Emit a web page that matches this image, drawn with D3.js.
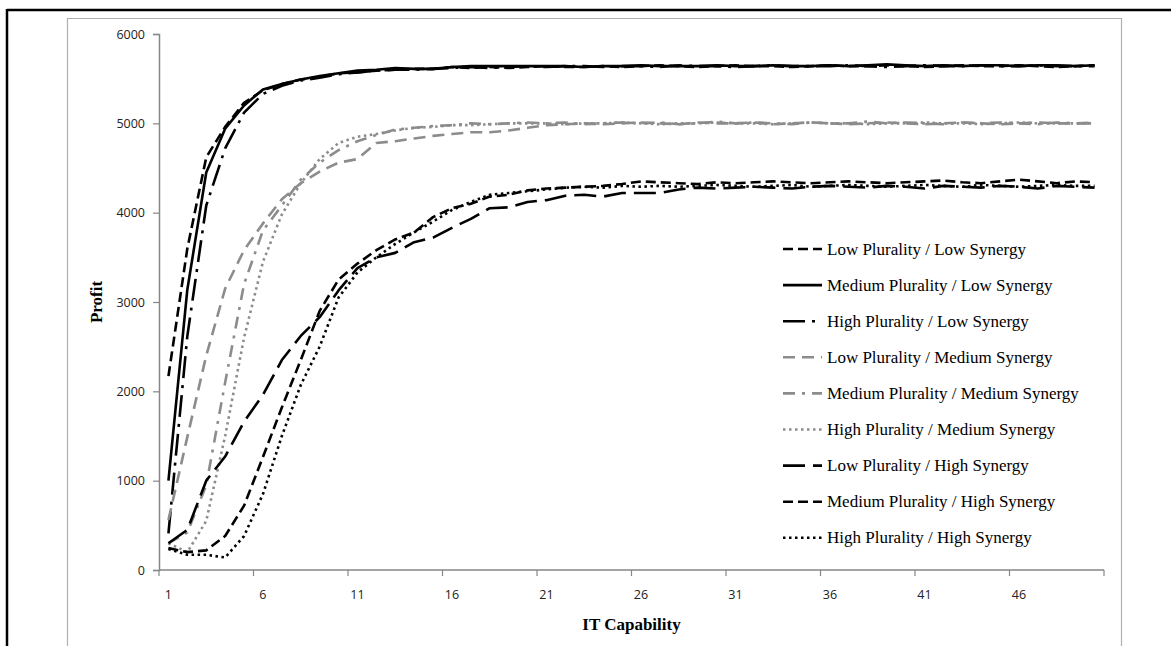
<!DOCTYPE html>
<html>
<head>
<meta charset="utf-8">
<script src="https://cdn.jsdelivr.net/npm/d3@7"></script>
<style>
  body { margin: 0; background: #fff; }
  svg { display: block; }
  .tick text { font-family: "Open Sans", sans-serif; font-size: 12.5px; fill: #222; }
  .legend text { font-family: "Liberation Serif", serif; font-size: 17px; fill: #000; }
  .title { font-family: "Liberation Serif", serif; font-size: 17px; font-weight: bold; fill: #000; }
</style>
</head>
<body>
<svg width="1171" height="646"></svg>
<script>
const categories = d3.range(1, 51);
const xTickLabels = [1, 6, 11, 16, 21, 26, 31, 36, 41, 46];
const yTicks = [0, 1000, 2000, 3000, 4000, 5000, 6000];

const seriesNames = [
  "Low Plurality / Low Synergy",
  "Medium Plurality / Low Synergy",
  "High Plurality / Low Synergy",
  "Low Plurality / Medium Synergy",
  "Medium Plurality / Medium Synergy",
  "High Plurality / Medium Synergy",
  "Low Plurality / High Synergy",
  "Medium Plurality / High Synergy",
  "High Plurality / High Synergy"
];

const lowLow = [2170, 3600, 4620, 4960, 5230, 5370, 5440, 5490, 5520, 5560, 5570, 5590, 5600, 5610, 5610, 5630, 5620, 5630, 5620, 5630,
  5640, 5630, 5630, 5640, 5630, 5640, 5650, 5640, 5630, 5640, 5650, 5640, 5640, 5630, 5640, 5650, 5640, 5640, 5650, 5640,
  5630, 5640, 5650, 5640, 5640, 5650, 5640, 5630, 5640, 5650];
const mediumLow = [1000, 3140, 4450, 4940, 5200, 5380, 5440, 5490, 5530, 5560, 5590, 5600, 5620, 5610, 5610, 5630, 5640, 5640, 5640, 5640,
  5640, 5640, 5630, 5640, 5640, 5650, 5640, 5640, 5640, 5650, 5640, 5640, 5650, 5640, 5640, 5650, 5640, 5650, 5660, 5650,
  5640, 5650, 5640, 5650, 5650, 5640, 5650, 5650, 5640, 5650];
const highLow = [410, 2620, 4080, 4720, 5120, 5330, 5420, 5480, 5510, 5550, 5570, 5590, 5600, 5600, 5610, 5620, 5630, 5620, 5630, 5640,
  5630, 5640, 5640, 5630, 5640, 5640, 5630, 5650, 5640, 5640, 5630, 5640, 5650, 5640, 5640, 5640, 5650, 5640, 5630, 5640,
  5650, 5640, 5640, 5650, 5640, 5640, 5650, 5640, 5640, 5640];
const lowMedium = [560, 1490, 2400, 3150, 3580, 3880, 4150, 4330, 4460, 4560, 4600, 4780, 4800, 4830, 4860, 4880, 4900, 4900, 4920, 4950,
  4980, 4990, 5000, 4990, 5000, 5010, 5000, 4990, 5010, 5000, 5000, 5010, 4990, 5000, 5010, 5000, 4990, 5000, 5010, 5000,
  4990, 5000, 5010, 5000, 4990, 5000, 5010, 5000, 5000, 5000];
const mediumMedium = [300, 420, 950, 2100, 3200, 3800, 4080, 4370, 4560, 4700, 4800, 4870, 4930, 4950, 4970, 4980, 5000, 4990, 5000, 5010,
  5000, 5010, 4990, 5000, 5010, 5000, 5010, 4990, 5000, 5020, 5000, 5010, 5000, 4990, 5010, 5000, 5000, 5020, 5000, 5010,
  5000, 4990, 5010, 5000, 5010, 5000, 4990, 5010, 5000, 5010];
const highMedium = [300, 200, 550, 1500, 2600, 3450, 3980, 4330, 4600, 4780, 4850, 4880, 4920, 4950, 4960, 4980, 4980, 4990, 5000, 5000,
  5000, 4990, 5000, 5000, 5010, 5000, 4990, 5000, 5000, 5010, 5000, 5000, 4990, 5000, 5010, 5000, 5000, 4990, 5000, 5000,
  5010, 5000, 5000, 4990, 5000, 5010, 5000, 5000, 5000, 5000];
const lowHigh = [300, 450, 1000, 1270, 1660, 1960, 2350, 2620, 2830, 3130, 3380, 3500, 3550, 3670, 3720, 3830, 3930, 4050, 4060, 4120,
  4140, 4190, 4200, 4180, 4220, 4220, 4220, 4260, 4280, 4270, 4280, 4290, 4280, 4270, 4290, 4300, 4290, 4280, 4300, 4290,
  4270, 4300, 4290, 4280, 4300, 4290, 4270, 4300, 4290, 4280];
const mediumHigh = [246, 200, 220, 380, 720, 1265, 1820, 2350, 2900, 3250, 3430, 3580, 3700, 3780, 3950, 4050, 4100, 4180, 4200, 4250,
  4270, 4280, 4290, 4300, 4320, 4350, 4340, 4330, 4320, 4340, 4330, 4340, 4350, 4340, 4330, 4340, 4350, 4340, 4330, 4340,
  4350, 4360, 4340, 4330, 4350, 4370, 4350, 4330, 4350, 4340];
const highHigh = [235, 170, 170, 140, 380, 850, 1500, 2070, 2500, 3050, 3330, 3500, 3650, 3780, 3900, 4030, 4120, 4200, 4220, 4240,
  4260, 4280, 4290, 4280, 4300, 4290, 4300, 4290, 4300, 4310, 4300, 4290, 4300, 4310, 4290, 4300, 4310, 4300, 4290, 4300,
  4310, 4300, 4290, 4310, 4300, 4290, 4300, 4310, 4300, 4300];

const seriesValues = [lowLow, mediumLow, highLow, lowMedium, mediumMedium, highMedium, lowHigh, mediumHigh, highHigh];
const seriesColors = ["#000", "#000", "#000", "#8c8c8c", "#8c8c8c", "#8c8c8c", "#000", "#000", "#000"];
const seriesDash = ["10,5", null, "22,7,3,7", "12,7", "12,7,3,7", "2.5,3.5", "22,8", "10,5", "2.5,3.5"];

const svg = d3.select("svg");

// frames
svg.append("line").attr("x1", 7).attr("y1", 10).attr("x2", 1171).attr("y2", 10)
  .attr("stroke", "#000").attr("stroke-width", 2.5);
svg.append("line").attr("x1", 7).attr("y1", 9).attr("x2", 7).attr("y2", 646)
  .attr("stroke", "#000").attr("stroke-width", 2.5);
svg.append("path").attr("d", "M67.5,650 V18.5 H1121.5 V650")
  .attr("fill", "none").attr("stroke", "#b0b0b0").attr("stroke-width", 1.2);

const x = d3.scaleBand().domain(categories).range([159, 1104]).paddingInner(0).paddingOuter(0);
const y = d3.scaleLinear().domain([0, 6000]).range([570, 34]);
const cx = c => x(c) + x.bandwidth() / 2;

// y axis
const yAxis = svg.append("g").attr("transform", "translate(159,0)")
  .call(d3.axisLeft(y).tickValues(yTicks).tickSize(6).tickPadding(8).tickFormat(d3.format("d")));
yAxis.select(".domain").attr("stroke", "#868686").attr("stroke-width", 1.5);
yAxis.selectAll(".tick line").attr("stroke", "#868686").attr("stroke-width", 1.2);

// x axis (ticks between categories, every 5)
const xAxis = svg.append("g");
xAxis.append("line").attr("x1", x.range()[0]).attr("x2", x.range()[1]).attr("y1", y(0)).attr("y2", y(0))
  .attr("stroke", "#868686").attr("stroke-width", 1.5);
const tickEdges = xTickLabels.map(c => x(c)).concat([x.range()[1]]);
xAxis.selectAll(".xt").data(tickEdges).enter().append("line")
  .attr("x1", d => d).attr("x2", d => d).attr("y1", y(0)).attr("y2", y(0) + 6)
  .attr("stroke", "#868686").attr("stroke-width", 1.2);
xAxis.selectAll(".xl").data(xTickLabels).enter().append("g").attr("class", "tick")
  .append("text").attr("x", d => cx(d)).attr("y", 599).attr("text-anchor", "middle").text(d => d);

// titles
svg.append("text").attr("class", "title").attr("x", (x.range()[0] + x.range()[1]) / 2).attr("y", 630)
  .attr("text-anchor", "middle").text("IT Capability");
svg.append("text").attr("class", "title").attr("transform", `translate(102,${(y(0) + y(6000)) / 2}) rotate(-90)`)
  .attr("text-anchor", "middle").text("Profit");

// lines
const line = d3.line().x((d, i) => cx(categories[i])).y(d => y(d));
seriesValues.forEach((vals, i) => {
  svg.append("path").datum(vals)
    .attr("d", line)
    .attr("fill", "none")
    .attr("stroke", seriesColors[i])
    .attr("stroke-width", 2.6)
    .attr("stroke-linejoin", "round")
    .attr("stroke-dasharray", seriesDash[i]);
});

// legend
const legend = svg.append("g").attr("class", "legend");
seriesNames.forEach((name, i) => {
  const ly = 249 + i * 36.1;
  legend.append("line").attr("x1", 783).attr("x2", 822).attr("y1", ly).attr("y2", ly)
    .attr("stroke", seriesColors[i]).attr("stroke-width", 2.6)
    .attr("stroke-dasharray", seriesDash[i]);
  legend.append("text").attr("x", 827).attr("y", ly).attr("dy", "0.33em").text(name);
});
</script>
</body>
</html>
